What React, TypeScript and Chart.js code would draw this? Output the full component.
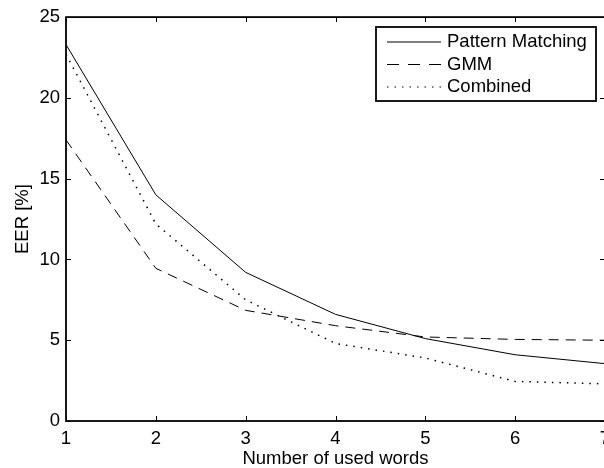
import React, { useEffect, useRef } from "react";
import { Chart, registerables } from "chart.js";

Chart.register(...registerables);

const wordCounts = [1, 2, 3, 4, 5, 6, 7];
const patternMatching = [23.3, 14.0, 9.2, 6.6, 5.1, 4.1, 3.55];
const gmm = [17.4, 9.45, 6.85, 5.9, 5.2, 5.05, 5.0];
const combined = [22.7, 12.2, 7.5, 4.8, 3.9, 2.45, 2.3];
const seriesLabels = ["Pattern Matching", "GMM", "Combined"];
const xTitle = "Number of used words";
const yTitle = "EER [%]";

const FONT = "'Liberation Sans', Arial, Helvetica, sans-serif";
const FS = 18.5;

const boxAndTicks = {
  id: "boxAndTicks",
  afterDraw(chart: any) {
    const { ctx, chartArea } = chart;
    const { left, top, right, bottom } = chartArea;
    const xs = chart.scales.x;
    const ys = chart.scales.y;
    const tl = 5;
    ctx.save();
    ctx.strokeStyle = "#000";
    ctx.lineWidth = 1;
    ctx.beginPath();
    xs.ticks.forEach((t: any) => {
      const px = Math.round(xs.getPixelForValue(t.value)) + 0.5;
      ctx.moveTo(px, bottom);
      ctx.lineTo(px, bottom - tl);
      ctx.moveTo(px, top);
      ctx.lineTo(px, top + tl);
    });
    ys.ticks.forEach((t: any) => {
      const py = Math.round(ys.getPixelForValue(t.value)) + 0.5;
      ctx.moveTo(left, py);
      ctx.lineTo(left + tl, py);
      ctx.moveTo(right, py);
      ctx.lineTo(right - tl, py);
    });
    ctx.stroke();
    ctx.lineWidth = 1.8;
    ctx.strokeRect(left, top, right - left, bottom - top);

    // legend
    const lx = 376, ly = 27, lw = 220, lh = 74;
    ctx.fillStyle = "#fff";
    ctx.fillRect(lx, ly, lw, lh);
    ctx.lineWidth = 1.8;
    ctx.strokeRect(lx, ly, lw, lh);
    const rows = [42, 64.5, 87];
    const legendDashes = [[], [12, 9], [1.5, 6]];
    chart.data.datasets.forEach((ds: any, i: number) => {
      const y = rows[i];
      ctx.beginPath();
      ctx.setLineDash(legendDashes[i]);
      ctx.lineWidth = 1;
      ctx.strokeStyle = "#000";
      ctx.moveTo(387, y);
      ctx.lineTo(441, y);
      ctx.stroke();
      ctx.setLineDash([]);
      ctx.fillStyle = "#000";
      ctx.font = `${FS}px ${FONT}`;
      ctx.textBaseline = "middle";
      ctx.textAlign = "left";
      ctx.fillText(ds.label, 447, y);
    });
    ctx.restore();
  },
};

export default function App() {
  const ref = useRef<HTMLCanvasElement | null>(null);
  useEffect(() => {
    if (!ref.current) return;
    const mk = (vals: number[]) => wordCounts.map((x, i) => ({ x, y: vals[i] }));
    const chart = new Chart(ref.current, {
      type: "line",
      data: {
        datasets: [
          { label: seriesLabels[0], data: mk(patternMatching), borderColor: "#000", borderWidth: 1, pointRadius: 0, tension: 0, fill: false },
          { label: seriesLabels[1], data: mk(gmm), borderColor: "#000", borderWidth: 1, borderDash: [10, 7], pointRadius: 0, tension: 0, fill: false },
          { label: seriesLabels[2], data: mk(combined), borderColor: "#000", borderWidth: 1.5, borderDash: [1.5, 6], pointRadius: 0, tension: 0, fill: false },
        ],
      },
      options: {
        animation: false,
        responsive: false,
        devicePixelRatio: 1,
        layout: { padding: { left: 0, top: 17, right: 15, bottom: 0 } },
        plugins: { legend: { display: false }, tooltip: { enabled: false } },
        scales: {
          x: {
            type: "linear",
            min: 1,
            max: 7,
            afterFit: (s: any) => { s.height = 47; },
            ticks: { stepSize: 1, color: "#000", padding: 7, font: { size: FS, family: FONT }, maxRotation: 0 },
            grid: { display: false, drawTicks: false },
            border: { display: false },
            title: { display: true, text: xTitle, color: "#000", font: { size: FS, family: FONT, lineHeight: 1 }, padding: { top: 0, bottom: 0 } },
          },
          y: {
            type: "linear",
            min: 0,
            max: 25,
            afterFit: (s: any) => { s.width = 66; },
            ticks: { stepSize: 5, color: "#000", padding: 6, font: { size: FS, family: FONT } },
            grid: { display: false, drawTicks: false },
            border: { display: false },
            title: { display: true, text: yTitle, color: "#000", font: { size: FS, family: FONT, lineHeight: 1 }, padding: { top: 14, bottom: 0 } },
          },
        },
      },
      plugins: [boxAndTicks],
    });
    return () => chart.destroy();
  }, []);
  return (
    <div style={{ position: "absolute", left: 0, top: 0, width: 604, height: 468, overflow: "hidden", background: "#fff" }}>
      <canvas ref={ref} width={620} height={468} style={{ display: "block" }} />
    </div>
  );
}
